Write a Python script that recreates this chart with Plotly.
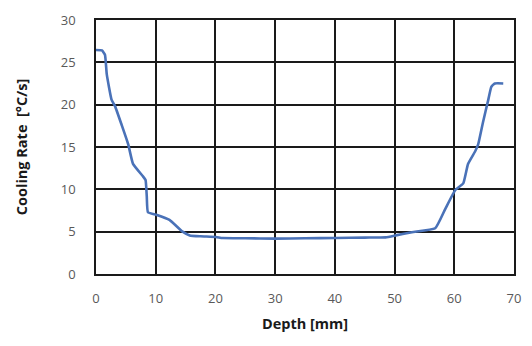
import plotly.graph_objects as go

depth = [0, 1.0, 1.5, 1.8, 2.6, 3.2, 4.3, 5.4, 6.2, 7.9, 8.3, 8.5, 8.7, 10.1, 12.3, 14.5, 15.7, 17.5,
         20.1, 21.2, 25, 30, 35, 40, 45, 48.5, 50.2, 52.9, 56.8, 58.5, 60.2, 61.5, 62.3, 63.5, 64.0,
         64.8, 65.7, 66.2, 66.8, 68.2]
rate = [26.45, 26.4, 25.9, 23.6, 20.6, 19.8, 17.6, 15.3, 13.0, 11.5, 11.1, 9.2, 7.3, 7.0, 6.4, 5.0, 4.56, 4.45,
        4.37, 4.25, 4.22, 4.18, 4.22, 4.25, 4.3, 4.33, 4.56, 4.94, 5.4, 7.7, 9.95, 10.7, 13.0, 14.5, 15.3,
        17.9, 20.6, 22.1, 22.5, 22.5]

x_ticks = [0, 10, 20, 30, 40, 50, 60, 70]
y_ticks = [0, 5, 10, 15, 20, 25, 30]

fig = go.Figure()
fig.add_trace(go.Scatter(x=depth, y=rate, mode="lines",
                         line=dict(color="#4a72b8", width=2.6, shape="spline", smoothing=0.4),
                         showlegend=False))

fig.update_layout(
    width=532, height=346,
    margin=dict(l=96, r=16, t=11, b=72),
    paper_bgcolor="white", plot_bgcolor="white",
    font=dict(family="Open Sans, Liberation Sans, sans-serif"),
)
fig.update_xaxes(
    range=[0, 70], tickvals=x_ticks, showgrid=True, gridcolor="#1a1a1a", gridwidth=1.6,
    showline=True, linecolor="#1a1a1a", linewidth=1.6, mirror=True, zeroline=False,
    tickfont=dict(size=13, color="#595959"), ticks="", ticklabelstandoff=12,
    title=dict(text="<b>Depth [mm]</b>", font=dict(size=14.5, color="#1a1a1a"), standoff=12),
)
fig.update_yaxes(
    range=[0, 30], tickvals=y_ticks, showgrid=True, gridcolor="#1a1a1a", gridwidth=1.6,
    showline=True, linecolor="#1a1a1a", linewidth=1.6, mirror=True, zeroline=False,
    tickfont=dict(size=13, color="#595959"), ticks="", ticklabelstandoff=16,
    title=dict(text="<b>Cooling Rate  [°C/s]</b>", font=dict(size=14.5, color="#1a1a1a"), standoff=30),
)

fig.write_html("out.html")
